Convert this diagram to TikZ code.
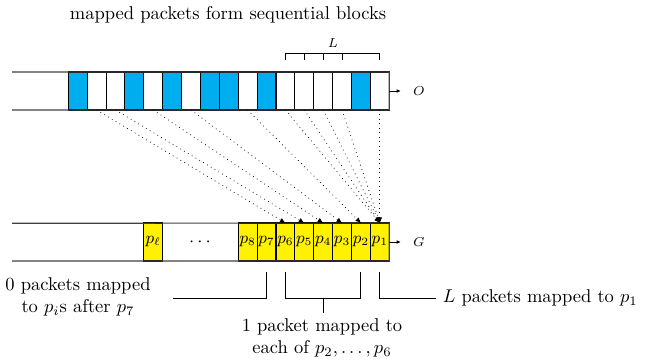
\documentclass[tikz,border=0pt]{standalone}
\usetikzlibrary{arrows.meta,calc}
\definecolor{pblue}{RGB}{0,174,239}
\definecolor{pyellow}{RGB}{255,242,0}
\begin{document}
\begin{tikzpicture}[x=0.54pt,y=-0.54pt,
  cell/.style={draw=black, line width=0.6pt, minimum width=10.2pt, minimum height=20.5pt, inner sep=0pt, outer sep=0pt, font=\small},
  bluecell/.style={cell, fill=pblue},
  whitecell/.style={cell, fill=white},
  yellowcell/.style={cell, fill=pyellow},
  frame/.style={line width=0.6pt, draw=black!75},
  map/.style={dotted, line width=0.4pt, -{Latex[length=3pt,width=2.6pt]}},
  outarr/.style={line width=0.5pt, -{Latex[length=2.4pt,width=2pt]}},
  brk/.style={line width=0.5pt},
  lbl/.style={inner sep=1pt, font=\scriptsize},
  txt/.style={inner sep=0pt, align=center}
]
\useasboundingbox (0,0) rectangle (647,360);
% top title
\node[txt] (title) at (228,15) {mapped packets form sequential blocks};
% top row cells
\foreach \k/\c in {1/bluecell,2/whitecell,3/whitecell,4/bluecell,5/whitecell,6/bluecell,7/whitecell,8/bluecell,9/bluecell,10/whitecell,11/bluecell,12/whitecell,13/whitecell,14/whitecell,15/whitecell,16/bluecell,17/whitecell}{
  \node[\c] (t\k) at ({68.3+(\k-0.5)*18.88},91) {};
}
\coordinate (tl) at (12,72);
\coordinate (bl) at (12,110);
\draw[frame] (tl) -- (t17.north east) -- (t17.south east) -- (bl);
% brace L
\coordinate (Lbar) at (0,53);
\draw[brk] (t12 |- 0,60) -- (t12 |- Lbar) -- (t17 |- Lbar) -- (t17 |- 0,60);
\foreach \k in {13,14,15}{ \draw[brk] (t\k |- 0,60) -- (t\k |- Lbar); }
\node[lbl] (Llab) at (333,43) {$L$};
% output arrow O
\coordinate (oend) at (401,91);
\draw[outarr] (t17.east) -- (oend);
\node[lbl] (olab) at (419,91) {$O$};

% bottom row
\node[yellowcell] (b5) at ({68.3+4.5*18.88},242) {$p_\ell$};
\foreach \k/\i in {10/8,11/7,12/6,13/5,14/4,15/3,16/2,17/1}{
  \node[yellowcell] (b\k) at ({68.3+(\k-0.5)*18.88},242) {$p_{\i}$};
}
\node[inner sep=0pt] (dots) at (200,242) {$\cdots$};
\coordinate (gtl) at (12,223.3);
\coordinate (gbl) at (12,261);
\draw[frame] (gtl) -- (b17.north east) -- (b17.south east) -- (gbl);
\coordinate (gend) at (401,242);
\draw[outarr] (b17.east) -- (gend);
\node[lbl] (glab) at (419,242) {$G$};

% mapping
\draw[map] (t2.south) -- (b12.north);
\draw[map] (t3.south) -- (b13.north);
\draw[map] (t5.south) -- (b14.north);
\draw[map] (t7.south) -- (b15.north);
\draw[map] (t10.south) -- (b16.north);
\foreach \k in {12,13,14,15,17}{ \draw[map] (t\k.south) -- (b17.north); }

% bottom brackets
\coordinate (ytop) at (0,272);
\coordinate (ybot) at (0,298);
\coordinate (lend) at (172.7,298);
\draw[brk] (b11 |- ytop) -- (b11 |- ybot) -- (lend);
\draw[brk] (b12 |- ytop) -- (b12 |- ybot) -- (b16 |- ybot) -- (b16 |- ytop);
\coordinate (mstem) at (b14 |- 0,313.3);
\draw[brk] (b14 |- ybot) -- (mstem);
\coordinate (rend) at (436,298);
\draw[brk] (b17 |- ytop) -- (b17 |- ybot) -- (rend);

\node[txt] (ltext) at (78,297) {0 packets mapped\\to $p_i$s after $p_7$};
\node[txt, anchor=north] (mtext) at (322,318) {1 packet mapped to\\each of $p_2,\ldots,p_6$};
\node[txt, anchor=west] (rtext) at (442.5,298) {$L$ packets mapped to $p_1$};
\end{tikzpicture}
\end{document}
